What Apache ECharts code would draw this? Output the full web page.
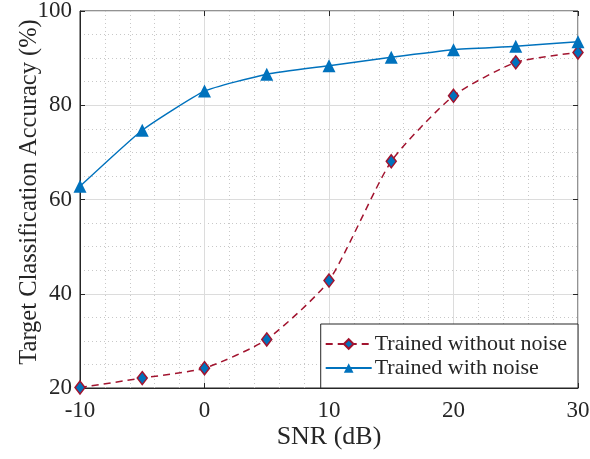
<!DOCTYPE html>
<html>
<head>
<meta charset="utf-8">
<script src="https://cdn.jsdelivr.net/npm/echarts@6/dist/echarts.min.js"></script>
<style>
  html, body { margin: 0; padding: 0; background: #fff; }
  #chart { width: 590px; height: 459px; }
</style>
</head>
<body>
<div id="chart"></div>
<script>
// values
var snr = [-10, -5, 0, 5, 10, 15, 20, 25, 30];
var withoutNoise = [20.1, 22.1, 24.2, 30.3, 42.8, 68.1, 82.0, 89.1, 91.2];
var withNoise = [62.8, 74.7, 83.0, 86.6, 88.4, 90.2, 91.8, 92.5, 93.5];
var xTicks = [-10, 0, 10, 20, 30];
var yTicks = [20, 40, 60, 80, 100];

var blue = '#0072BD';
var red = '#A2142F';
var font = '"Liberation Serif", "Times New Roman", serif';

var chart = echarts.init(document.getElementById('chart'));

function pairs(ys) {
  return snr.map(function (x, i) { return [x, ys[i]]; });
}

var minorDots = { show: true, lineStyle: { color: '#c8c8c8', type: [1, 3], width: 1 } };
var tickIn = { show: true, inside: true, length: 5, lineStyle: { color: '#262626' } };

var option = {
  backgroundColor: '#fff',
  animation: false,
  grid: {
    left: 80, right: 12, top: 11, bottom: 71,
    outerBoundsMode: 'none',
    show: true, borderColor: '#262626', borderWidth: 1
  },
  xAxis: [{
    type: 'value',
    min: xTicks[0], max: xTicks[xTicks.length - 1], interval: 10,
    name: 'SNR (dB)', nameLocation: 'middle', nameGap: 36, nameMoveOverlap: false,
    nameTextStyle: { fontFamily: font, fontSize: 26, color: '#262626' },
    axisLine: { show: true, onZero: false, lineStyle: { color: '#262626' } },
    axisTick: tickIn,
    axisLabel: { fontFamily: font, fontSize: 23, color: '#262626', margin: 11 },
    splitLine: { show: true, lineStyle: { color: '#dcdcdc', width: 1 } },
    minorTick: { show: false, splitNumber: 5 },
    minorSplitLine: minorDots
  }, {
    type: 'value', position: 'top',
    min: xTicks[0], max: xTicks[xTicks.length - 1], interval: 10,
    axisLine: { show: false, onZero: false },
    axisTick: tickIn,
    axisLabel: { show: false },
    splitLine: { show: false }
  }],
  yAxis: [{
    type: 'value',
    min: yTicks[0], max: yTicks[yTicks.length - 1], interval: 20,
    name: 'Target Classification Accuracy (%)', nameLocation: 'middle', nameGap: 38, nameMoveOverlap: false,
    nameTextStyle: { fontFamily: font, fontSize: 24.5, color: '#262626', padding: [0, 0, 0, 15] },
    axisLine: { show: true, onZero: false, lineStyle: { color: '#262626' } },
    axisTick: tickIn,
    axisLabel: { fontFamily: font, fontSize: 23, color: '#262626', margin: 8 },
    splitLine: { show: true, lineStyle: { color: '#dcdcdc', width: 1 } },
    minorTick: { show: false, splitNumber: 4 },
    minorSplitLine: minorDots
  }, {
    type: 'value', position: 'right',
    min: yTicks[0], max: yTicks[yTicks.length - 1], interval: 20,
    axisLine: { show: false, onZero: false },
    axisTick: tickIn,
    axisLabel: { show: false },
    splitLine: { show: false }
  }],
  legend: {
    right: 12, bottom: 71,
    orient: 'vertical',
    backgroundColor: '#fff',
    borderColor: '#262626', borderWidth: 1, borderRadius: 0,
    padding: [9, 11, 9, 4],
    itemGap: 2,
    itemWidth: 46, itemHeight: 12,
    textStyle: { fontFamily: font, fontSize: 22, color: '#262626', padding: [0, 0, 0, -2] },
    data: ['Trained without noise', 'Trained with noise']
  },
  series: [{
    name: 'Trained without noise',
    type: 'line',
    data: pairs(withoutNoise),
    smooth: 0.2,
    symbol: 'diamond', symbolSize: [10, 13],
    lineStyle: { color: red, width: 1.5, type: [7, 5] },
    itemStyle: { color: blue, borderColor: red, borderWidth: 1.5 },
    z: 3
  }, {
    name: 'Trained with noise',
    type: 'line',
    data: pairs(withNoise),
    smooth: 0.15,
    symbol: 'triangle', symbolSize: 13,
    lineStyle: { color: blue, width: 1.5 },
    itemStyle: { color: blue, borderColor: blue, borderWidth: 0 },
    z: 4
  }]
};

chart.setOption(option);
</script>
</body>
</html>
